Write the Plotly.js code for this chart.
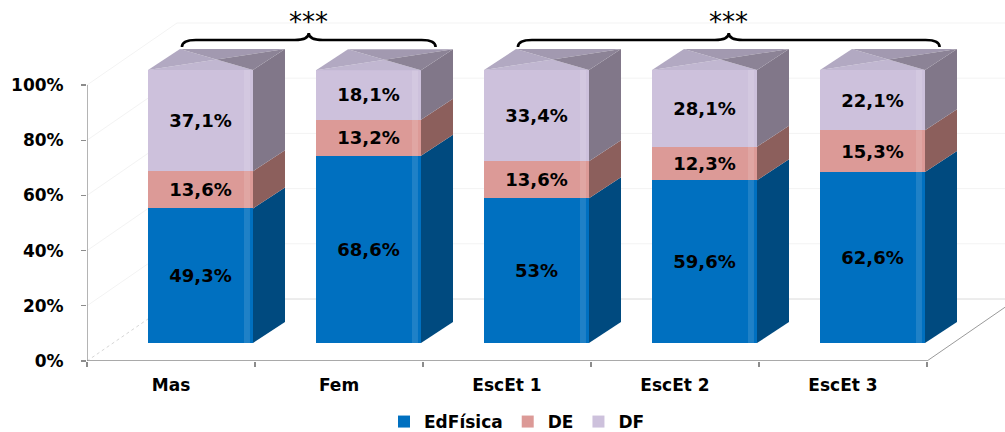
<!DOCTYPE html>
<html>
<head>
<meta charset="utf-8">
<script src="https://cdn.plot.ly/plotly-3.0.1.min.js"></script>
<style>
  html, body { margin: 0; padding: 0; background: #ffffff; }
  #chart { width: 1005px; height: 432px; }
</style>
</head>
<body>
<div id="chart"></div>
<script>
// Share of pupils per group (percent), stacked to 100 %
const categories = ['Mas', 'Fem', 'EscEt 1', 'EscEt 2', 'EscEt 3'];
const edFisica = [49.3, 68.6, 53, 59.6, 62.6];
const de = [13.6, 13.2, 13.6, 12.3, 15.3];
const df = [37.1, 18.1, 33.4, 28.1, 22.1];
const seriesNames = ['EdFísica', 'DE', 'DF'];
const yTickVals = [0, 20, 40, 60, 80, 100];
const yTickText = ['0%', '20%', '40%', '60%', '80%', '100%'];
// significance braces: first and last category index covered, and the mark drawn above
const braceFrom = [0, 2];
const braceTo = [1, 4];
const braceMark = ['***', '***'];

// ---- look ----
const FONT = 'DejaVu Sans, Arial, sans-serif';
const frontColors = ['#0070c0', '#dc9a97', '#cdc1dc'];
const sideColors = ['#004a7f', '#8c5f5c', '#817789'];
const topColors = { front: '#c1b7d1', left: '#b2a9c2', back: '#a299b0', right: '#8c8396' };

const W = 1005, H = 432;
const M = { l: 87, r: 0, t: 0, b: 71, autoexpand: false };
const plotW = W - M.l - M.r;          // 918
const plotH = H - M.t - M.b;          // 361
const catPx = 168;                    // pixels per category slot
const yPx = 2.76;                     // pixels per percent on the value axis
const barPx = 2.73;                   // pixels per percent on the bar faces
const barLift = 18;                   // bar faces sit behind the front edge of the floor

const xMin = -0.5, xMax = -0.5 + plotW / catPx;
const yRange = [0, plotH / yPx];
const y2Range = [-barLift / barPx, (plotH - barLift) / barPx];

const barWidth = 105 / catPx;
const barOffset = -23 / catPx;
const sideDx = 32 / catPx;            // bar depth, x units
const sideDy = 21 / barPx;            // bar depth, y2 units
const floorDx = 90 / catPx;           // floor depth, x units
const floorDy = 62 / yPx;             // floor depth, y units

const fmt = v => String(v).replace('.', ',') + '%';

const seriesValues = [edFisica, de, df];
const traces = seriesValues.map((vals, s) => ({
  type: 'bar',
  name: seriesNames[s],
  x: categories,
  y: vals,
  yaxis: 'y2',
  width: barWidth,
  offset: barOffset,
  marker: { color: frontColors[s], line: { width: 0 } },
  text: vals.map(fmt),
  textposition: 'inside',
  insidetextanchor: 'middle',
  textangle: 0,
  constraintext: 'none',
  textfont: { family: FONT, size: 18, color: '#000000', weight: 'bold' },
  hoverinfo: 'skip'
}));

const P = (x, y) => x.toFixed(4) + ',' + y.toFixed(4);
const poly = pts => 'M' + pts.map(p => P(p[0], p[1])).join('L') + 'Z';
const shapes = [];

// floor, walls and faint back gridlines
const wallLine = (path, color, width, dash) => shapes.push({
  type: 'path', xref: 'x', yref: 'y', layer: 'below', path,
  line: { color, width: width || 1, dash: dash || 'solid' }
});
yTickVals.forEach(v => {
  if (v === 0) return;
  wallLine('M' + P(xMin, v) + 'L' + P(xMin + floorDx, v + floorDy) + 'L' + P(xMax + 1, v + floorDy), '#f3f3f3', 1);
});
wallLine('M' + P(xMin, 0) + 'L' + P(xMin + floorDx, floorDy), '#d6d6d6', 1, 'dot');
wallLine('M' + P(xMin + floorDx, floorDy) + 'L' + P(xMax + 1, floorDy), '#dadada', 1);
wallLine('M' + P(categories.length - 0.5, 0) + 'L' + P(categories.length - 0.5 + floorDx, floorDy), '#9a9a9a', 1);
// axis lines
wallLine('M' + P(xMin, 0) + 'L' + P(categories.length - 0.5, 0), '#8c8c8c', 1.3);
wallLine('M' + P(xMin, 0) + 'L' + P(xMin, 100), '#8c8c8c', 1.3);

// side and top faces of every column, plus a soft sheen near the front edge
const sheenL = 9 / catPx, sheenR = 3 / catPx;
categories.forEach((c, i) => {
  const xl = i + barOffset, xr = xl + barWidth;
  let base = 0;
  seriesValues.forEach((vals, s) => {
    const top = base + vals[i];
    shapes.push({
      type: 'path', xref: 'x', yref: 'y2', layer: 'above',
      path: poly([[xr, base], [xr + sideDx, base + sideDy], [xr + sideDx, top + sideDy], [xr, top]]),
      fillcolor: sideColors[s], line: { width: 0 }
    });
    shapes.push({
      type: 'path', xref: 'x', yref: 'y2', layer: 'above',
      path: poly([[xr - sheenL, base], [xr - sheenR, base], [xr - sheenR, top], [xr - sheenL, top]]),
      fillcolor: 'rgba(255,255,255,0.12)', line: { width: 0 }
    });
    base = top;
  });
  const FL = [xl, base], FR = [xr, base], BL = [xl + sideDx, base + sideDy], BR = [xr + sideDx, base + sideDy];
  const C = [(xl + xr + sideDx) / 2, base + sideDy / 2];
  [[FL, FR, topColors.front], [FL, BL, topColors.left], [BL, BR, topColors.back], [FR, BR, topColors.right]]
    .forEach(t => shapes.push({
      type: 'path', xref: 'x', yref: 'y2', layer: 'above',
      path: poly([t[0], t[1], C]), fillcolor: t[2], line: { width: 0 }
    }));
});

// significance braces
const annotations = [];
const braceEnd = (361 - 47) / yPx, braceMid = (361 - 40) / yPx, braceTip = (361 - 33) / yPx;
braceFrom.forEach((f, k) => {
  const x0 = f + 0.065, x1 = braceTo[k] + 0.575, xm = (x0 + x1) / 2, r = 14 / catPx;
  const path = 'M' + P(x0, braceEnd) +
    'Q' + P(x0, braceMid) + ' ' + P(x0 + r, braceMid) +
    'L' + P(xm - r, braceMid) +
    'Q' + P(xm, braceMid) + ' ' + P(xm, braceTip) +
    'Q' + P(xm, braceMid) + ' ' + P(xm + r, braceMid) +
    'L' + P(x1 - r, braceMid) +
    'Q' + P(x1, braceMid) + ' ' + P(x1, braceEnd);
  shapes.push({ type: 'path', xref: 'x', yref: 'y', layer: 'above', path, line: { color: '#000000', width: 2.6 } });
  annotations.push({
    xref: 'x', yref: 'y', x: xm, y: (361 - 22) / yPx, text: braceMark[k], showarrow: false,
    font: { family: FONT, size: 26, color: '#000000' }, xanchor: 'center', yanchor: 'middle'
  });
});

const layout = {
  width: W, height: H,
  margin: M,
  paper_bgcolor: '#ffffff',
  plot_bgcolor: 'rgba(0,0,0,0)',
  barmode: 'stack',
  showlegend: true,
  legend: {
    orientation: 'h', x: (384 - M.l) / plotW, xanchor: 'left',
    y: -(422 - plotH) / plotH, yanchor: 'middle',
    font: { family: FONT, size: 17, color: '#000000', weight: 'bold' },
    bgcolor: 'rgba(0,0,0,0)', traceorder: 'normal'
  },
  xaxis: {
    type: 'category', categoryorder: 'array', categoryarray: categories,
    range: [xMin, xMax], fixedrange: true,
    showline: false, showgrid: false, zeroline: false,
    tickson: 'boundaries', ticks: 'outside', ticklen: 5, tickcolor: '#8c8c8c', tickwidth: 1.3,
    ticklabelstandoff: 12,
    tickfont: { family: FONT, size: 17, color: '#000000', weight: 'bold' }
  },
  yaxis: {
    range: yRange, fixedrange: true,
    tickmode: 'array', tickvals: yTickVals, ticktext: yTickText,
    showline: false, showgrid: false, zeroline: false,
    ticks: 'outside', ticklen: 5, tickcolor: '#8c8c8c', tickwidth: 1.3,
    ticklabelstandoff: 14,
    tickfont: { family: FONT, size: 17, color: '#000000', weight: 'bold' }
  },
  yaxis2: {
    overlaying: 'y', range: y2Range, visible: false, fixedrange: true,
    showgrid: false, zeroline: false
  },
  shapes,
  annotations
};

Plotly.newPlot('chart', traces, layout, { staticPlot: true, displayModeBar: false });
</script>
</body>
</html>
